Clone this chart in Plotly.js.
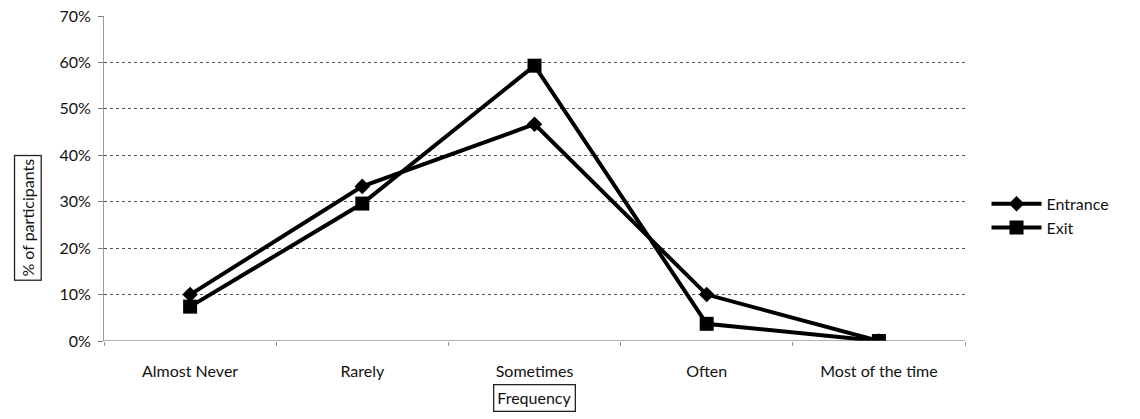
<!DOCTYPE html>
<html>
<head>
<meta charset="utf-8">
<script src="https://cdn.plot.ly/plotly-3.0.1.min.js"></script>
<style>html,body{margin:0;padding:0;background:#fff;}#chart{width:1140px;height:419px;}</style>
</head>
<body>
<div id="chart"></div>
<script>
const categories = ["Almost Never", "Rarely", "Sometimes", "Often", "Most of the time"];
const entrance = [0.100, 0.333, 0.467, 0.100, 0.000];
const exitVals = [0.074, 0.296, 0.593, 0.037, 0.000];
const yTicks = [0, 0.1, 0.2, 0.3, 0.4, 0.5, 0.6, 0.7];
const yTickLabels = ["0%", "10%", "20%", "30%", "40%", "50%", "60%", "70%"];

const FONT = "Lato, 'Open Sans', 'DejaVu Sans', sans-serif";

const traces = [
  {x: categories, y: entrance, name: "Entrance", type: "scatter", mode: "lines+markers",
   line: {color: "#000", width: 4}, marker: {symbol: "diamond", size: 12, color: "#000"}},
  {x: categories, y: exitVals, name: "Exit", type: "scatter", mode: "lines+markers",
   line: {color: "#000", width: 4}, marker: {symbol: "square", size: 14, color: "#000"}}
];

const layout = {
  width: 1140, height: 419,
  margin: {l: 104, r: 175, t: 16, b: 78},
  paper_bgcolor: "#fff", plot_bgcolor: "#fff",
  font: {family: FONT, size: 15, color: "#111"},
  showlegend: true,
  legend: {x: 1.025, y: 0.385, xanchor: "left", yanchor: "middle", font: {family: FONT, size: 16, color: "#111"},
           tracegroupgap: 15, itemwidth: 50},
  xaxis: {
    type: "category", range: [-0.5, 4.5], showgrid: false, zeroline: false,
    showline: false, ticks: "outside", tickson: "boundaries", ticklen: 4, tickcolor: "#999",
    ticklabelstandoff: 19,
    tickfont: {family: FONT, size: 16, color: "#111"}
  },
  yaxis: {
    range: [0, 0.7], tickvals: yTicks, ticktext: yTickLabels,
    showgrid: true, gridcolor: "#555", gridwidth: 1, griddash: "dot",
    zeroline: false, showline: true, linecolor: "#999", linewidth: 1, linedash: "dot",
    ticks: "outside", ticklen: 5, tickcolor: "#777", ticklabelstandoff: 4,
    tickfont: {family: FONT, size: 16, color: "#111"}
  },
  shapes: [
    {type: "line", xref: "paper", yref: "y", x0: 0, x1: 1, y0: 0, y1: 0, line: {color: "#666", width: 1}}
  ],
  annotations: [
    {text: "Frequency", xref: "paper", yref: "paper", x: 0.5, y: -0.175, xanchor: "center", yanchor: "middle",
     showarrow: false, font: {family: FONT, size: 16, color: "#111"}, bordercolor: "#222", borderwidth: 1.3, borderpad: 3},
    {text: "% of participants", xref: "paper", yref: "paper", x: -0.089, y: 0.38, xanchor: "center", yanchor: "middle",
     textangle: -90, showarrow: false, font: {family: FONT, size: 16, color: "#111"}, bordercolor: "#222", borderwidth: 1.3, borderpad: 3}
  ]
};

Plotly.newPlot("chart", traces, layout, {displayModeBar: false, staticPlot: true});
</script>
</body>
</html>
